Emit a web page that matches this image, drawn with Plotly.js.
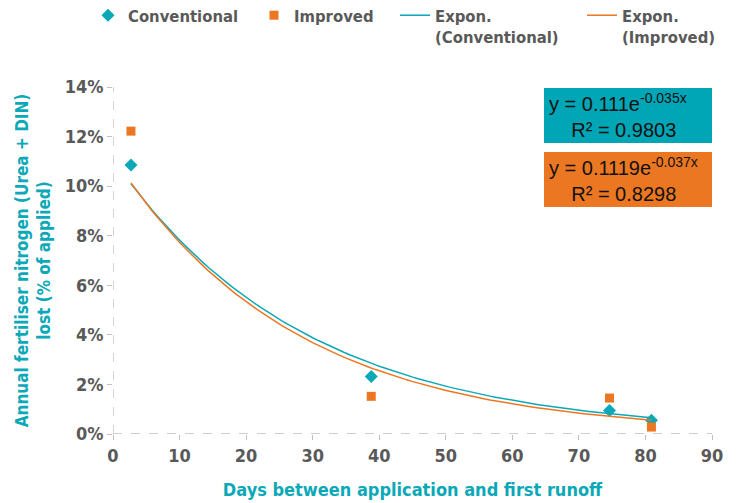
<!DOCTYPE html>
<html>
<head>
<meta charset="utf-8">
<script src="https://cdn.plot.ly/plotly-3.0.1.min.js"></script>
<style>html,body{margin:0;padding:0;background:#fff;}#chart{width:740px;height:503px;}</style>
</head>
<body>
<div id="chart"></div>
<script>
// Data
var convDays = [2.7, 38.8, 74.6, 80.9];
var convLoss = [0.1085, 0.0232, 0.0095, 0.0055];
var impDays = [2.7, 38.8, 74.6, 80.9];
var impLoss = [0.1222, 0.0152, 0.0145, 0.0028];
// Exponential trendline coefficients (y = a e^(b x)) as printed on the chart
var convFit = [0.111, -0.035];
var impFit = [0.1119, -0.037];
var convR2 = "0.9803";
var impR2 = "0.8298";
var seriesNames = ['Conventional', 'Improved', 'Expon.<br>(Conventional)', 'Expon.<br>(Improved)'];
var xTicks = [0, 10, 20, 30, 40, 50, 60, 70, 80, 90];
var yTicks = [0, 0.02, 0.04, 0.06, 0.08, 0.10, 0.12, 0.14];

var TEAL = '#0BA8B8', ORANGE = '#EC7723', GREY = '#595959';
var FONT = '"Liberation Sans Narrow", "DejaVu Sans Condensed", Roboto, sans-serif';

function trend(fit, xs) {
  var x0 = Math.min.apply(null, xs), x1 = Math.max.apply(null, xs);
  var X = [], Y = [];
  for (var i = 0; i <= 100; i++) {
    var x = x0 + (x1 - x0) * i / 100;
    X.push(x); Y.push(fit[0] * Math.exp(fit[1] * x));
  }
  return {x: X, y: Y};
}
var tc = trend(convFit, convDays), ti = trend(impFit, impDays);

var traces = [
  {x: convDays, y: convLoss, type: 'scatter', mode: 'markers', name: seriesNames[0], legend: 'legend',
   marker: {symbol: 'diamond', size: 10, color: TEAL}},
  {x: impDays, y: impLoss, type: 'scatter', mode: 'markers', name: seriesNames[1], legend: 'legend2',
   marker: {symbol: 'square', size: 9, color: ORANGE}},
  {x: tc.x, y: tc.y, type: 'scatter', mode: 'lines', name: seriesNames[2], legend: 'legend3',
   line: {color: TEAL, width: 1.5}},
  {x: ti.x, y: ti.y, type: 'scatter', mode: 'lines', name: seriesNames[3], legend: 'legend4',
   line: {color: ORANGE, width: 1.5}}
];

function leg(x) {
  return {orientation: 'h', x: x, xanchor: 'left', y: 1.2565, yanchor: 'top',
          valign: 'top', bgcolor: 'rgba(0,0,0,0)',
          font: {family: FONT, size: 16.5, color: GREY, weight: 'bold'}};
}

var layout = {
  width: 740, height: 503,
  margin: {l: 113, r: 28, t: 87, b: 69, autoexpand: false},
  paper_bgcolor: '#fff', plot_bgcolor: '#fff',
  showlegend: true,
  legend: leg(-0.0417), legend2: leg(0.2354), legend3: leg(0.4708), legend4: leg(0.783),
  xaxis: {range: [0, 90], tickvals: xTicks, ticktext: xTicks.map(String),
          showgrid: false, zeroline: false, showline: false, automargin: false,
          ticks: 'outside', ticklen: 5, tickcolor: '#BFBFBF',
          tickfont: {family: FONT, size: 18, color: GREY, weight: 'bold'},
          title: {text: 'Days between application and first runoff', standoff: 18,
                  font: {family: FONT, size: 18, color: TEAL, weight: 'bold'}}},
  yaxis: {range: [0, 0.14], tickvals: yTicks, ticktext: yTicks.map(function(v){return Math.round(v*100)+'%';}),
          showgrid: false, zeroline: false, showline: false, automargin: false,
          ticks: 'outside', ticklen: 5, tickcolor: '#BFBFBF',
          tickfont: {family: FONT, size: 18, color: GREY, weight: 'bold'},
          title: {text: 'Annual fertiliser nitrogen (Urea + DIN)<br>lost (% of applied)', standoff: 9,
                  font: {family: FONT, size: 17, color: TEAL, weight: 'bold'}}},
  shapes: [
    {type: 'line', xref: 'x', yref: 'y', x0: 0, x1: 90, y0: 0, y1: 0,
     line: {color: '#BFBFBF', width: 1.3, dash: 'dash'}},
    {type: 'line', xref: 'x', yref: 'y', x0: 0, x1: 0, y0: 0, y1: 0.14,
     line: {color: '#BFBFBF', width: 1.3, dash: 'dash'}}
  ],
  annotations: [
    {xref: 'paper', yref: 'paper', x: 1, y: 0.997, xanchor: 'right', yanchor: 'top',
     width: 158, height: 45, align: 'left', valign: 'middle', borderpad: 4, borderwidth: 1,
     bordercolor: '#00A6B6', bgcolor: '#00A6B6', showarrow: false,
     text: 'y = 0.111e<sup>' + convFit[1] + 'x</sup><br>\u00a0\u00a0\u00a0\u00a0R² = ' + convR2,
     font: {family: '"Liberation Sans", Arial, sans-serif', size: 20, color: '#111'}},
    {xref: 'paper', yref: 'paper', x: 1, y: 0.8127, xanchor: 'right', yanchor: 'top',
     width: 158, height: 45, align: 'left', valign: 'middle', borderpad: 4, borderwidth: 1,
     bordercolor: '#EC7723', bgcolor: '#EC7723', showarrow: false,
     text: 'y = 0.1119e<sup>' + impFit[1] + 'x</sup><br>\u00a0\u00a0\u00a0\u00a0R² = ' + impR2,
     font: {family: '"Liberation Sans", Arial, sans-serif', size: 20, color: '#111'}}
  ]
};

Plotly.newPlot('chart', traces, layout, {displayModeBar: false, staticPlot: true});
</script>
</body>
</html>
